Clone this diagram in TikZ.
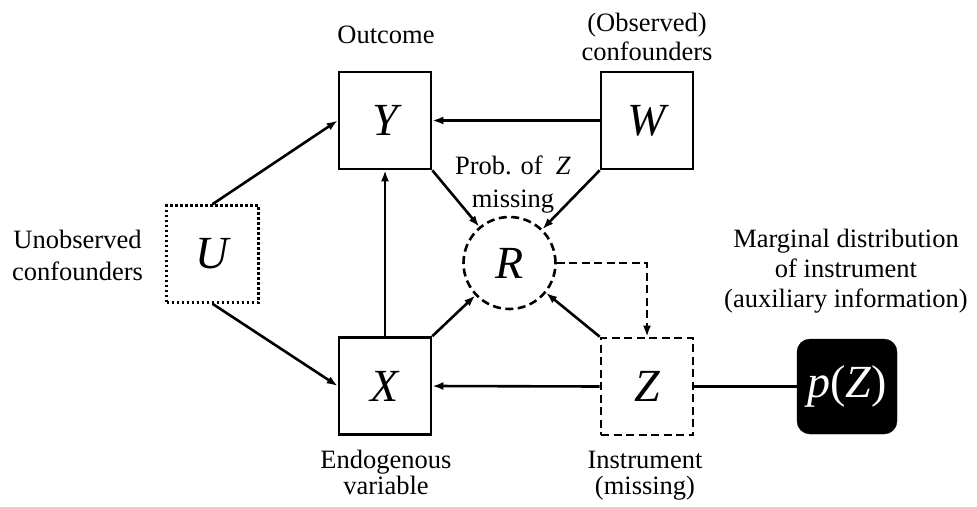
\documentclass[tikz,border=0pt]{standalone}
\usepackage{fontspec}
\setmainfont{Liberation Serif}
\usetikzlibrary{arrows.meta}
\begin{document}
\begin{tikzpicture}[x=1pt,y=-1pt,
  box/.style={draw, line width=2.6pt, minimum width=92pt, minimum height=97pt, inner sep=0pt,
    font=\fontsize{46}{50}\selectfont\itshape},
  dottedbox/.style={dash pattern=on 2.6pt off 2.4pt},
  dashedbox/.style={dash pattern=on 8pt off 4.5pt},
  circnode/.style={circle, draw, line width=2.6pt, dash pattern=on 8pt off 4.5pt, minimum size=92pt,
    inner sep=0pt, font=\fontsize{46}{50}\selectfont\itshape},
  pbox/.style={draw, fill=black, text=white, rounded corners=13pt, minimum width=100pt,
    minimum height=95pt, inner sep=0pt, font=\fontsize{46}{50}\selectfont},
  lbl/.style={align=center, anchor=base},
  arr/.style={line width=2.6pt, -{Latex[length=11pt,width=8pt]}},
  ln/.style={line width=2.6pt}]
\useasboundingbox (0,0) rectangle (977,506);

\node[box] (Y) at (385,120.5) {Y};
\node[box] (W) at (647,120.5) {W};
\node[box, dottedbox] (U) at (212.5,254) {U};
\node[box] (X) at (385,386) {X};
\node[box, dashedbox] (Z) at (647,386.5) {Z};
\node[circnode] (R) at (509.5,263) {R};
\node[pbox] (P) at (847,386.5) {\textit{p}(\textit{Z})};

\draw[arr] (U.north) -- (Y.west);
\draw[arr] (U.south) -- (X.west);
\draw[arr] (X.north) -- (Y.south);
\draw[arr] (W.west) -- (Y.east);
\draw[arr] (Z.west) -- (X.east);
\draw[arr] (Y.south east) -- (R);
\draw[arr] (W.south west) -- (R);
\draw[arr] (X.north east) -- (R);
\draw[arr] (Z.north west) -- (R);
\draw[arr, dashedbox] (R.east) -| (Z.north);
\draw[ln] (Z.east) -- (P.west);

\node[lbl, font=\fontsize{26.5}{30}\selectfont] (lo) at (386,43) {Outcome};
\node[lbl, font=\fontsize{26.5}{29}\selectfont] (lw) at (647,60) {(Observed)\\confounders};
\node[lbl, font=\fontsize{26.5}{32}\selectfont] (lu) at (77.5,280) {Unobserved\\confounders};
\node[lbl, font=\fontsize{26.5}{33}\selectfont] (lr) at (513,207) {Prob. of\enspace\textit{Z}\\missing};
\node[lbl, font=\fontsize{26.5}{26}\selectfont] (lx) at (386,494) {Endogenous\\variable};
\node[lbl, font=\fontsize{26.5}{26}\selectfont] (lz) at (645,494) {Instrument\\(missing)};
\node[lbl, font=\fontsize{26.5}{30}\selectfont] (lp) at (846,307) {Marginal distribution\\of instrument\\(auxiliary information)};
\end{tikzpicture}
\end{document}
